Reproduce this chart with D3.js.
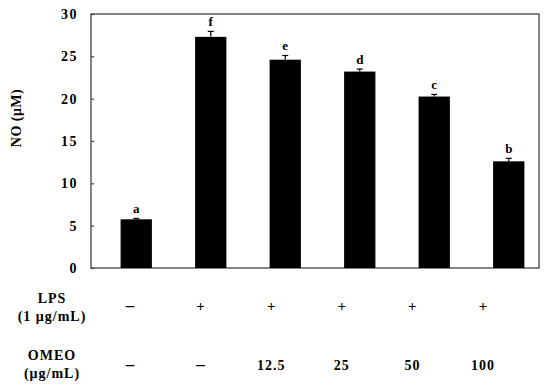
<!DOCTYPE html>
<html>
<head>
<meta charset="utf-8">
<script src="https://cdn.jsdelivr.net/npm/d3@7"></script>
<style>
  body { margin: 0; background: #fff; }
  text { font-family: "Liberation Serif", "Times New Roman", serif; font-weight: bold; fill: #000; }
</style>
</head>
<body>
<svg id="chart" width="550" height="390"></svg>
<script>
const groups = ["ctrl", "lps", "o12", "o25", "o50", "o100"];
const values = [5.75, 27.3, 24.6, 23.2, 20.25, 12.6];
const errors = [0.1, 0.65, 0.5, 0.3, 0.25, 0.35];
const letters = ["a", "f", "e", "d", "c", "b"];
const lpsRow = ["\u2013", "+", "+", "+", "+", "+"];
const omeoRow = ["\u2013", "\u2013", "12.5", "25", "50", "100"];
const yTicks = [0, 5, 10, 15, 20, 25, 30];

const svg = d3.select("#chart");
const mLeft = 91, mRight = 539, mTop = 14, mBottom = 268;

const y = d3.scaleLinear([0, 30], [mBottom, mTop]);
const x = d3.scaleBand(groups, [99, 546]).paddingInner(0.58).paddingOuter(0.29);
const xt = d3.scalePoint(groups, [130, 483]);

// frame
svg.append("rect")
  .attr("x", mLeft).attr("y", mTop)
  .attr("width", mRight - mLeft).attr("height", mBottom - mTop)
  .attr("fill", "none").attr("stroke", "#444").attr("stroke-width", 1.3);

// y axis
const yAxis = svg.append("g")
  .attr("transform", `translate(${mLeft},0)`)
  .call(d3.axisRight(y).tickValues(yTicks).tickSize(3).tickFormat(""));
yAxis.select(".domain").remove();
yAxis.selectAll("line").attr("stroke", "#444").attr("stroke-width", 1.2);

svg.append("g").selectAll("text")
  .data(yTicks)
  .join("text")
  .attr("x", 78)
  .attr("y", d => y(d) + 5)
  .attr("text-anchor", "end")
  .attr("font-size", 14)
  .attr("letter-spacing", 1.5)
  .text(d => d);

svg.append("text")
  .attr("transform", "translate(21,118) rotate(-90)")
  .attr("text-anchor", "middle")
  .attr("font-size", 14)
  .attr("letter-spacing", 0.5)
  .text("NO (\u03bcM)");

// bars
svg.append("g").selectAll("rect")
  .data(values)
  .join("rect")
  .attr("x", (d, i) => x(groups[i]))
  .attr("y", d => y(d))
  .attr("width", x.bandwidth())
  .attr("height", d => y(0) - y(d))
  .attr("fill", "#000");

// error bars
const eb = svg.append("g").attr("stroke", "#000").attr("stroke-width", 1.2);
values.forEach((v, i) => {
  const cx = x(groups[i]) + x.bandwidth() / 2;
  eb.append("line").attr("x1", cx).attr("x2", cx).attr("y1", y(v)).attr("y2", y(v + errors[i]));
  eb.append("line").attr("x1", cx - 3).attr("x2", cx + 3).attr("y1", y(v + errors[i])).attr("y2", y(v + errors[i]));
});

// significance letters
svg.append("g").selectAll("text")
  .data(values)
  .join("text")
  .attr("x", (d, i) => x(groups[i]) + x.bandwidth() / 2)
  .attr("y", (d, i) => y(d + errors[i]) - 5)
  .attr("text-anchor", "middle")
  .attr("font-size", 13)
  .text((d, i) => letters[i]);

// treatment table
const rowLabel = (lines, y0) => {
  const t = svg.append("text").attr("text-anchor", "middle").attr("font-size", 14).attr("letter-spacing", 1);
  lines.forEach((s, k) => t.append("tspan").attr("x", 52).attr("y", y0 + k * 18).text(s));
};
rowLabel(["LPS", "(1 \u03bcg/mL)"], 303);
rowLabel(["OMEO", "(\u03bcg/mL)"], 360);

svg.append("g").selectAll("text")
  .data(lpsRow)
  .join("text")
  .attr("x", (d, i) => xt(groups[i]))
  .attr("y", 311)
  .attr("text-anchor", "middle")
  .attr("font-size", d => d === "+" ? 15 : 17)
  .attr("font-weight", "normal")
  .text(d => d);

svg.append("g").selectAll("text")
  .data(omeoRow)
  .join("text")
  .attr("x", (d, i) => xt(groups[i]))
  .attr("y", 370)
  .attr("text-anchor", "middle")
  .attr("font-size", d => d === "\u2013" ? 17 : 14)
  .attr("letter-spacing", d => d === "\u2013" ? 0 : 1)
  .attr("font-weight", d => d === "\u2013" ? "normal" : "bold")
  .text(d => d);
</script>
</body>
</html>
